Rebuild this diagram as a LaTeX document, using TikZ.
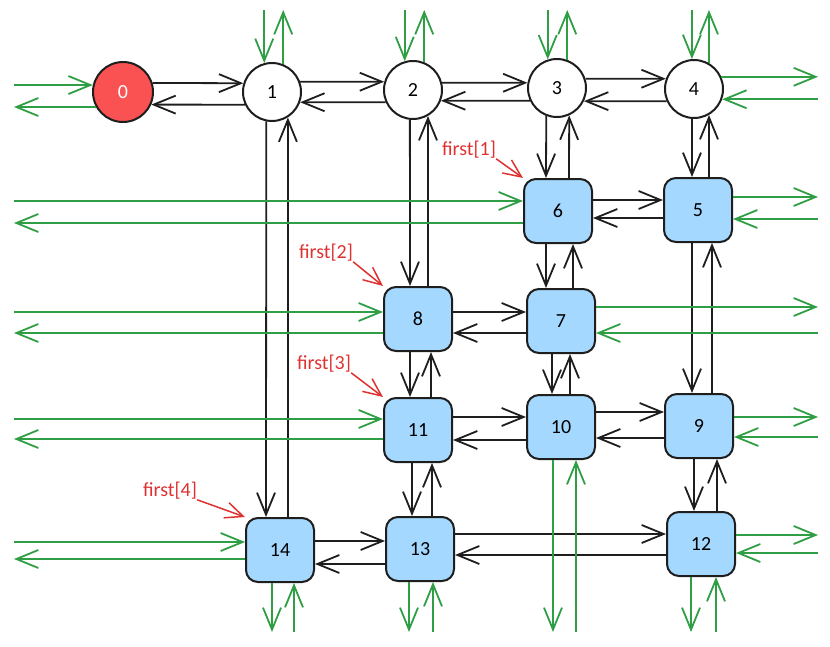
\documentclass[tikz,border=0pt]{standalone}
\usepackage{fontspec}
\setmainfont{Carlito}
\usetikzlibrary{arrows.meta}
\definecolor{ink}{HTML}{1E1E1E}
\definecolor{leafgreen}{HTML}{2F9E44}
\definecolor{cellblue}{HTML}{A5D8FF}
\definecolor{rootred}{HTML}{FA5252}
\definecolor{notered}{HTML}{E03131}

\begin{document}
\begin{tikzpicture}[x=1pt,y=-1pt]
				\tikzset{>={Straight Barb[length=22pt,width=18pt]}}
				\tikzset{vtx/.style={circle,draw=ink,line width=2pt,fill=white,minimum size=58pt,inner sep=0pt,font=\fontsize{20}{24}\selectfont}}
				\tikzset{cell/.style={rectangle,rounded corners=12pt,draw=ink,line width=2pt,fill=cellblue,minimum width=68pt,minimum height=64pt,inner sep=0pt,font=\fontsize{20}{24}\selectfont}}
				\tikzset{lnk/.style={->,draw=ink,line width=1.8pt}}
				\tikzset{ext/.style={->,draw=leafgreen,line width=1.8pt}}
				\tikzset{note/.style={text=notered,inner sep=0pt,font=\fontsize{20}{24}\selectfont}}
				\tikzset{tagline/.style={-{Straight Barb[length=18pt,width=16pt]},draw=notered,line width=1.5pt}}
				\useasboundingbox (0,0) rectangle (830,646);
				\coordinate (L) at (14,0);
				\coordinate (R) at (818,0);
				\coordinate (T) at (0,10);
				\coordinate (B) at (0,632);
				\node[vtx,fill=rootred,text=white,minimum size=60pt] (n0) at (123,92) {0};
				\node[vtx] (n1) at (272,92) {1};
				\node[vtx] (n2) at (413,90) {2};
				\node[vtx] (n3) at (557,88) {3};
				\node[vtx] (n4) at (694,89) {4};
				\node[cell] (n6) at (558,211) {6};
				\node[cell] (n5) at (698,210) {5};
				\node[cell] (n8) at (418,319) {8};
				\node[cell] (n7) at (561,321) {7};
				\node[cell] (n11) at (418,430) {11};
				\node[cell] (n10) at (561,427) {10};
				\node[cell] (n9) at (699,426) {9};
				\node[cell] (n14) at (280,550) {14};
				\node[cell] (n13) at (420,549) {13};
				\node[cell] (n12) at (701,544) {12};
				\draw[lnk] (n0.17) -- (n1.163);
				\draw[lnk] (n1.205) -- (n0.-24);
				\draw[lnk] (n1.20) -- (n2.164);
				\draw[lnk] (n2.204) -- (n1.-20);
				\draw[lnk] (n2.14) -- (n3.170);
				\draw[lnk] (n3.205) -- (n2.-21);
				\draw[lnk] (n3.18) -- (n4.160);
				\draw[lnk] (n4.204) -- (n3.-26);
				\draw[lnk] (n1.-101) -- ([xshift=-14]n14.north);
				\draw[lnk] ([xshift=8]n14.north) -- (n1.-58);
				\draw[lnk] (n2.-96) -- ([xshift=-8]n8.north);
				\draw[lnk] ([xshift=10]n8.north) -- (n2.-60);
				\draw[lnk] (n3.-111) -- ([xshift=-12]n6.north);
				\draw[lnk] ([xshift=11]n6.north) -- (n3.-66);
				\draw[lnk] (n4.-94) -- ([xshift=-6]n5.north);
				\draw[lnk] ([xshift=11]n5.north) -- (n4.-60);
				\draw[lnk] ([yshift=11]n6.east) -- ([yshift=10]n5.west);
				\draw[lnk] ([yshift=-8]n5.west) -- ([yshift=-7]n6.east);
				\draw[lnk] ([xshift=-12]n6.south) -- ([xshift=-15]n7.north);
				\draw[lnk] ([xshift=12]n7.north) -- ([xshift=15]n6.south);
				\draw[lnk] ([xshift=-6]n5.south) -- ([xshift=-7]n9.north);
				\draw[lnk] ([xshift=13]n9.north) -- ([xshift=14]n5.south);
				\draw[lnk] ([yshift=7]n8.east) -- ([yshift=9]n7.west);
				\draw[lnk] ([yshift=-12]n7.west) -- ([yshift=-14]n8.east);
				\draw[lnk] ([xshift=-8]n8.south) -- ([xshift=-8]n11.north);
				\draw[lnk] ([xshift=13]n11.north) -- ([xshift=13]n8.south);
				\draw[lnk] ([xshift=-9]n7.south) -- ([xshift=-9]n10.north);
				\draw[lnk] ([xshift=9]n10.north) -- ([xshift=9]n7.south);
				\draw[lnk] ([yshift=13]n11.east) -- ([yshift=10]n10.west);
				\draw[lnk] ([yshift=-13]n10.west) -- ([yshift=-10]n11.east);
				\draw[lnk] ([yshift=15]n10.east) -- ([yshift=14]n9.west);
				\draw[lnk] ([yshift=-12]n9.west) -- ([yshift=-11]n10.east);
				\draw[lnk] ([xshift=-6]n11.south) -- ([xshift=-8]n13.north);
				\draw[lnk] ([xshift=12]n13.north) -- ([xshift=14]n11.south);
				\draw[lnk] ([xshift=-5]n9.south) -- ([xshift=-7]n12.north);
				\draw[lnk] ([xshift=16]n12.north) -- ([xshift=18]n9.south);
				\draw[lnk] ([yshift=9]n14.east) -- ([yshift=8]n13.west);
				\draw[lnk] ([yshift=-15]n13.west) -- ([yshift=-14]n14.east);
				\draw[lnk] ([yshift=15]n13.east) -- ([yshift=10]n12.west);
				\draw[lnk] ([yshift=-11]n12.west) -- ([yshift=-6]n13.east);
				\draw[ext] (n0.167 -| L) -- (n0.167);
				\draw[ext] (n0.209) -- (n0.209 -| L);
				\draw[ext] (n1.105 |- T) -- (n1.105);
				\draw[ext] (n1.68) -- (n1.68 |- T);
				\draw[ext] (n2.106 |- T) -- (n2.106);
				\draw[ext] (n2.68) -- (n2.68 |- T);
				\draw[ext] (n3.108 |- T) -- (n3.108);
				\draw[ext] (n3.70) -- (n3.70 |- T);
				\draw[ext] (n4.94 |- T) -- (n4.94);
				\draw[ext] (n4.60) -- (n4.60 |- T);
				\draw[ext] (n4.24) -- (n4.24 -| R);
				\draw[ext] (n4.-20 -| R) -- (n4.-20);
				\draw[ext] ([yshift=10]n6.west -| L) -- ([yshift=10]n6.west);
				\draw[ext] ([yshift=-12]n6.west) -- ([yshift=-12]n6.west -| L);
				\draw[ext] ([yshift=13]n5.east) -- ([yshift=13]n5.east -| R);
				\draw[ext] ([yshift=-9]n5.east -| R) -- ([yshift=-9]n5.east);
				\draw[ext] ([yshift=7]n8.west -| L) -- ([yshift=7]n8.west);
				\draw[ext] ([yshift=-14]n8.west) -- ([yshift=-14]n8.west -| L);
				\draw[ext] ([yshift=14]n7.east) -- ([yshift=14]n7.east -| R);
				\draw[ext] ([yshift=-12]n7.east -| R) -- ([yshift=-12]n7.east);
				\draw[ext] ([yshift=11]n11.west -| L) -- ([yshift=11]n11.west);
				\draw[ext] ([yshift=-9]n11.west) -- ([yshift=-9]n11.west -| L);
				\draw[ext] ([yshift=9]n9.east) -- ([yshift=9]n9.east -| R);
				\draw[ext] ([yshift=-11]n9.east -| R) -- ([yshift=-11]n9.east);
				\draw[ext] ([xshift=-8]n10.south) -- ([xshift=-8]n10.south |- B);
				\draw[ext] ([xshift=15]n10.south |- B) -- ([xshift=15]n10.south);
				\draw[ext] ([yshift=8]n14.west -| L) -- ([yshift=8]n14.west);
				\draw[ext] ([yshift=-9]n14.west) -- ([yshift=-9]n14.west -| L);
				\draw[ext] ([xshift=-8]n14.south) -- ([xshift=-8]n14.south |- B);
				\draw[ext] ([xshift=14]n14.south |- B) -- ([xshift=14]n14.south);
				\draw[ext] ([xshift=-11]n13.south) -- ([xshift=-11]n13.south |- B);
				\draw[ext] ([xshift=13]n13.south |- B) -- ([xshift=13]n13.south);
				\draw[ext] ([yshift=9]n12.east) -- ([yshift=9]n12.east -| R);
				\draw[ext] ([yshift=-9]n12.east -| R) -- ([yshift=-9]n12.east);
				\draw[ext] ([xshift=-10]n12.south) -- ([xshift=-10]n12.south |- B);
				\draw[ext] ([xshift=15]n12.south |- B) -- ([xshift=15]n12.south);
				\node[note] (f1) at (469,150) {first[1]};
				\node[note] (f2) at (326,253) {first[2]};
				\node[note] (f3) at (324,364) {first[3]};
				\node[note] (f4) at (170,491) {first[4]};
				\draw[tagline] (f1.south east) -- (n6.north west);
				\draw[tagline] (f2.south east) -- (n8.north west);
				\draw[tagline] (f3.south east) -- (n11.north west);
				\draw[tagline] (f4.south east) -- (n14.north west);
\end{tikzpicture}
\end{document}
